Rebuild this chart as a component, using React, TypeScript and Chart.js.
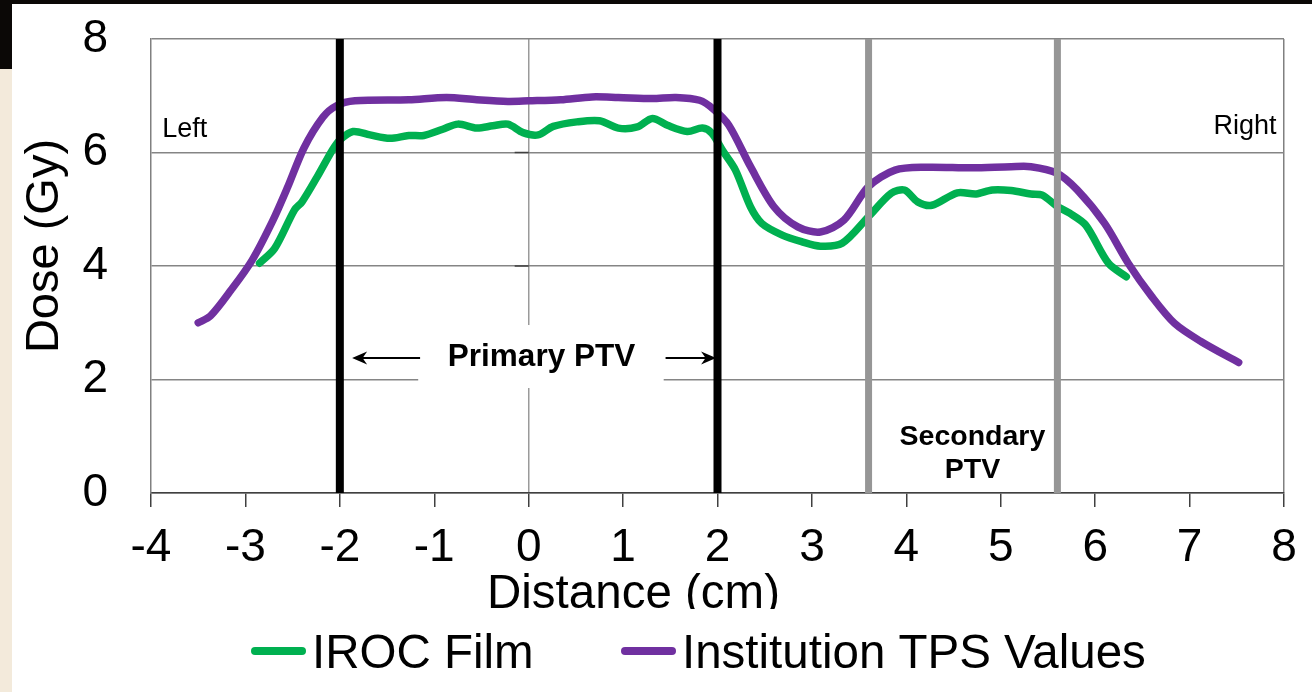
import React, { useEffect, useRef } from 'react';
import { Chart, registerables } from 'chart.js';

Chart.register(...registerables);

// ---- Data ----
const seriesNames = ['IROC Film', 'Institution TPS Values'];
const seriesColors = ['#00B050', '#7030A0'];

const filmDistance = [
  -2.85, -2.69, -2.48, -2.40, -2.24, -2.08, -2.00, -1.86, -1.68, -1.47, -1.27, -1.11,
  -0.91, -0.75, -0.55, -0.38, -0.22, -0.06, 0.10, 0.26, 0.51, 0.75, 0.95, 1.15, 1.31,
  1.47, 1.68, 1.84, 1.94, 2.06, 2.19, 2.35, 2.47, 2.68, 2.89, 3.09, 3.32, 3.60, 3.84,
  3.98, 4.12, 4.27, 4.54, 4.74, 4.91, 5.11, 5.32, 5.44, 5.59, 5.73, 5.90, 6.14, 6.33,
];
const filmDose = [
  4.05, 4.31, 4.99, 5.13, 5.57, 6.04, 6.22, 6.37, 6.31, 6.25, 6.30, 6.30,
  6.41, 6.50, 6.43, 6.47, 6.50, 6.35, 6.31, 6.46, 6.54, 6.56, 6.43, 6.45, 6.60,
  6.48, 6.37, 6.43, 6.34, 6.02, 5.69, 5.04, 4.75, 4.55, 4.43, 4.35, 4.40, 4.87, 5.28,
  5.34, 5.13, 5.07, 5.29, 5.27, 5.34, 5.33, 5.27, 5.25, 5.06, 4.93, 4.72, 4.05, 3.81,
];

const tpsDistance = [
  -3.50, -3.37, -3.15, -2.93, -2.71, -2.55, -2.38, -2.18, -2.04, -1.84, -1.27, -0.87,
  -0.55, -0.22, 0.00, 0.34, 0.67, 0.95, 1.31, 1.56, 1.81, 1.96, 2.12, 2.35, 2.60,
  2.85, 3.09, 3.34, 3.60, 3.88, 4.21, 4.70, 5.11, 5.32, 5.59, 5.81, 6.10, 6.35,
  6.60, 6.84, 7.12, 7.52,
];
const tpsDose = [
  3.00, 3.12, 3.58, 4.10, 4.80, 5.40, 6.08, 6.62, 6.82, 6.91, 6.93, 6.97,
  6.93, 6.90, 6.91, 6.93, 6.98, 6.97, 6.95, 6.97, 6.92, 6.76, 6.48, 5.75, 5.04,
  4.69, 4.60, 4.81, 5.40, 5.69, 5.74, 5.73, 5.75, 5.75, 5.64, 5.34, 4.75, 4.05,
  3.46, 2.99, 2.67, 2.30,
];

const primaryPtvEdges = [-2, 2];
const secondaryPtvEdges = [3.6, 5.6];

const xTickValues = [-4, -3, -2, -1, 0, 1, 2, 3, 4, 5, 6, 7, 8];
const yTickValues = [0, 2, 4, 6, 8];

const xTitle = 'Distance (cm)';
const yTitle = 'Dose (Gy)';
const leftLabel = 'Left';
const rightLabel = 'Right';
const primaryLabel = 'Primary PTV';
const secondaryLabel = ['Secondary', 'PTV'];

const FONT = '"Liberation Sans", Arial, Helvetica, sans-serif';

function toPoints(xs: number[], ys: number[]) {
  return xs.map((x, i) => ({ x, y: ys[i] }));
}

function drawArrow(ctx: CanvasRenderingContext2D, fromX: number, tipX: number, y: number) {
  const dir = tipX > fromX ? 1 : -1;
  const head = 15;
  ctx.beginPath();
  ctx.moveTo(fromX, y);
  ctx.lineTo(tipX - dir * head * 0.6, y);
  ctx.stroke();
  ctx.beginPath();
  ctx.moveTo(tipX, y);
  ctx.lineTo(tipX - dir * head, y - 6.5);
  ctx.lineTo(tipX - dir * head * 0.7, y);
  ctx.lineTo(tipX - dir * head, y + 6.5);
  ctx.closePath();
  ctx.fill();
}

const decorPlugin = {
  id: 'decor',
  beforeDatasetsDraw(chart: any) {
    const { ctx, scales } = chart;
    const x = scales.x;
    const y = scales.y;
    ctx.save();
    // small tick marks on the x = 0 axis
    ctx.strokeStyle = '#404040';
    ctx.lineWidth = 1.5;
    const x0 = x.getPixelForValue(0);
    for (const v of [4, 6]) {
      const py = y.getPixelForValue(v);
      ctx.beginPath();
      ctx.moveTo(x0 - 14, py);
      ctx.lineTo(x0, py);
      ctx.stroke();
    }
    // white box behind the Primary PTV label
    ctx.fillStyle = '#ffffff';
    const bx1 = x.getPixelForValue(-1.17);
    const bx2 = x.getPixelForValue(1.43);
    const by1 = y.getPixelForValue(2.96);
    const by2 = y.getPixelForValue(1.85);
    ctx.fillRect(bx1, by1, bx2 - bx1, by2 - by1);
    ctx.restore();
  },
  afterDraw(chart: any) {
    const { ctx, scales } = chart;
    const x = scales.x;
    const y = scales.y;
    ctx.save();
    ctx.fillStyle = '#000';
    ctx.strokeStyle = '#000';

    // Left / Right labels
    ctx.font = `27px ${FONT}`;
    ctx.textBaseline = 'alphabetic';
    ctx.textAlign = 'left';
    ctx.fillText(leftLabel, x.getPixelForValue(-3.88), y.getPixelForValue(6.27));
    ctx.textAlign = 'right';
    ctx.fillText(rightLabel, x.getPixelForValue(7.92), y.getPixelForValue(6.33));

    // Primary PTV label + arrows
    ctx.font = `bold 31.5px ${FONT}`;
    ctx.textAlign = 'center';
    ctx.fillText(primaryLabel, x.getPixelForValue(0.136), y.getPixelForValue(2.23));
    ctx.lineWidth = 2;
    const ay = y.getPixelForValue(2.38);
    drawArrow(ctx, x.getPixelForValue(-1.15), x.getPixelForValue(-1.87), ay);
    drawArrow(ctx, x.getPixelForValue(1.45), x.getPixelForValue(1.985), ay);

    // Secondary PTV label
    ctx.font = `bold 28.5px ${FONT}`;
    const sx = x.getPixelForValue(4.70);
    ctx.fillText(secondaryLabel[0], sx, y.getPixelForValue(0.84));
    ctx.fillText(secondaryLabel[1], sx, y.getPixelForValue(0.27));

    // Y axis title
    ctx.save();
    ctx.font = `47px ${FONT}`;
    ctx.translate(45, 246);
    ctx.rotate(-Math.PI / 2);
    ctx.textAlign = 'center';
    ctx.textBaseline = 'middle';
    ctx.fillText(yTitle, 0, 0);
    ctx.restore();

    // X axis title (bottom partly hidden, as in the reference)
    ctx.save();
    ctx.beginPath();
    ctx.rect(0, 540, chart.width, 609 - 540);
    ctx.clip();
    ctx.font = `47.5px ${FONT}`;
    ctx.textAlign = 'left';
    ctx.textBaseline = 'alphabetic';
    ctx.fillText(xTitle, 487, 608);
    ctx.restore();

    // Legend
    const items = chart.data.datasets.filter((d: any) => d.isSeries);
    const starts = [251, 621];
    ctx.font = `47.5px ${FONT}`;
    ctx.textAlign = 'left';
    ctx.textBaseline = 'alphabetic';
    items.forEach((d: any, i: number) => {
      const lx = starts[i];
      ctx.strokeStyle = d.borderColor;
      ctx.lineWidth = 8;
      ctx.lineCap = 'round';
      ctx.beginPath();
      ctx.moveTo(lx + 4, 651);
      ctx.lineTo(lx + 51, 651);
      ctx.stroke();
      ctx.fillStyle = '#000';
      ctx.fillText(d.label, lx + 61, 668);
    });
    ctx.restore();
  },
};

export default function App() {
  const canvasRef = useRef<HTMLCanvasElement | null>(null);

  useEffect(() => {
    document.body.style.margin = '0';
    const canvas = canvasRef.current;
    if (!canvas) return;

    const seriesData = [toPoints(filmDistance, filmDose), toPoints(tpsDistance, tpsDose)];
    const seriesDatasets = seriesData.map((data, i) => ({
      label: seriesNames[i],
      data,
      isSeries: true,
      borderColor: seriesColors[i],
      backgroundColor: seriesColors[i],
      borderWidth: 7.5,
      borderCapStyle: 'round',
      borderJoinStyle: 'round',
      pointRadius: 0,
      tension: 0.3,
      fill: false,
      order: 1,
    }));
    const edgeDatasets = [
      ...primaryPtvEdges.map((v) => ({
        label: 'Primary PTV edge',
        data: [{ x: v, y: yTickValues[0] }, { x: v, y: yTickValues[yTickValues.length - 1] }],
        borderColor: '#000000',
        borderWidth: 8,
        pointRadius: 0,
        fill: false,
        order: 0,
      })),
      ...secondaryPtvEdges.map((v) => ({
        label: 'Secondary PTV edge',
        data: [{ x: v, y: yTickValues[0] }, { x: v, y: yTickValues[yTickValues.length - 1] }],
        borderColor: '#969696',
        borderWidth: 7,
        pointRadius: 0,
        fill: false,
        order: 0,
      })),
    ];

    const chart = new Chart(canvas, {
      type: 'line',
      data: { datasets: [...edgeDatasets, ...seriesDatasets] as any },
      options: {
        animation: false,
        responsive: false,
        devicePixelRatio: 1,
        layout: { padding: { top: 39, right: 28, left: 0, bottom: 0 } },
        plugins: {
          legend: { display: false },
          tooltip: { enabled: false },
        },
        scales: {
          x: {
            type: 'linear',
            min: xTickValues[0],
            max: xTickValues[xTickValues.length - 1],
            afterBuildTicks: (scale: any) => {
              scale.ticks = xTickValues.map((v) => ({ value: v }));
            },
            afterFit: (scale: any) => {
              scale.height = 199;
              scale.paddingLeft = 0;
              scale.paddingRight = 0;
            },
            ticks: {
              color: '#000',
              font: { family: FONT, size: 46 },
              padding: 14,
              maxRotation: 0,
              autoSkip: false,
              callback: (v: any) => String(v),
            },
            grid: {
              color: (c: any) =>
                c.tick && (c.tick.value === 0) ? '#9a9a9a' : c.tick && c.tick.value === 8 ? '#808080' : 'rgba(0,0,0,0)',
              lineWidth: 1.5,
              drawTicks: true,
              tickLength: 14,
              tickColor: '#404040',
              tickWidth: 1.5,
            },
            border: { display: true, color: '#404040', width: 1.5 },
          },
          y: {
            type: 'linear',
            min: yTickValues[0],
            max: yTickValues[yTickValues.length - 1],
            afterBuildTicks: (scale: any) => {
              scale.ticks = yTickValues.map((v) => ({ value: v }));
            },
            afterFit: (scale: any) => {
              scale.width = 151;
              scale.paddingTop = 0;
              scale.paddingBottom = 0;
            },
            ticks: {
              color: '#000',
              font: { family: FONT, size: 46 },
              padding: 43,
              callback: (v: any) => String(v),
            },
            grid: {
              color: '#858585',
              lineWidth: 1.5,
              drawTicks: false,
            },
            border: { display: true, color: '#808080', width: 1.5 },
          },
        },
      },
      plugins: [decorPlugin as any],
    });

    return () => {
      chart.destroy();
    };
  }, []);

  return (
    <div style={{ position: 'absolute', left: 0, top: 0, width: 1312, height: 692, background: '#0b0806', overflow: 'hidden' }}>
      <div style={{ position: 'absolute', left: 0, top: 69, width: 12, height: 623, background: '#F3EADB' }} />
      <div style={{ position: 'absolute', left: 12, top: 4, width: 1300, height: 688, background: '#ffffff' }} />
      <canvas
        ref={canvasRef}
        width={1312}
        height={692}
        style={{ position: 'absolute', left: 0, top: 0, width: 1312, height: 692 }}
      />
    </div>
  );
}
